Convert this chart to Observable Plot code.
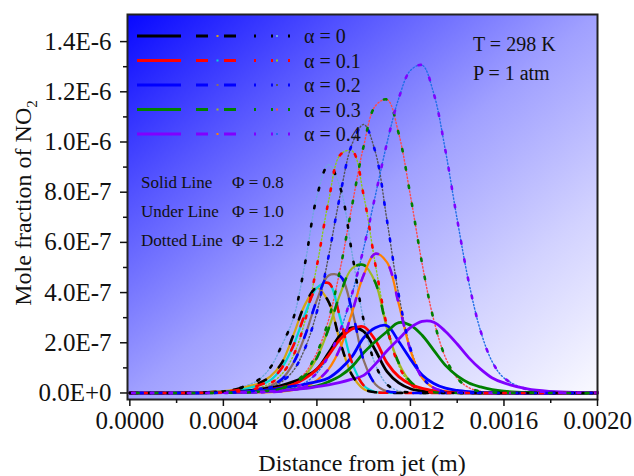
<!DOCTYPE html>
<html>
<head>
<meta charset="utf-8">
<script src="https://cdn.jsdelivr.net/npm/d3@7"></script>
<script src="https://cdn.jsdelivr.net/npm/@observablehq/plot@0.6"></script>
<style>
  html, body { margin: 0; padding: 0; background: #ffffff; }
  #chart svg { display: block; }
</style>
</head>
<body>
<div id="chart"></div>
<script>
// ---------- data (x in metres, y in units of 1e-6 mole fraction) ----------
const xs = [0, 0.0002, 0.0003, 0.0004, 0.00045, 0.0005, 0.00055, 0.0006, 0.00065, 0.0007,
  0.00075, 0.0008, 0.00085, 0.0009, 0.00095, 0.001, 0.00105, 0.0011, 0.00115, 0.0012,
  0.00125, 0.0013, 0.00135, 0.0014, 0.00145, 0.0015, 0.00155, 0.0016, 0.0017, 0.0018,
  0.0019, 0.002];
const yUnit = 1e-6;

const alphaLabels = ["α = 0", "α = 0.1", "α = 0.2", "α = 0.3", "α = 0.4"];
const alphaColors = ["#000000", "#ff0000", "#0000ff", "#008000", "#8000ff"];
const dashedBaseColors = ["#d4a514", "#00d6d6", "#8b6f64", "#a0b822", "#ff8000"];
const dottedBaseColors = ["#6fa8dc", "#8ccc1a", "#555555", "#ff4a4a", "#1e6fe8"];

// Phi = 0.8 (solid)
const phi08_a0 = [0,0,0.001,0.003,0.005,0.008,0.013,0.02,0.03,0.045,0.065,0.095,0.16,0.23,0.26,0.245,0.17,0.085,0.04,0.017,0.007,0.003,0.002,0.001,0,0,0,0,0,0,0,0];
const phi08_a1 = [0,0,0.001,0.002,0.003,0.005,0.008,0.013,0.022,0.035,0.058,0.095,0.15,0.215,0.255,0.264,0.21,0.12,0.065,0.035,0.018,0.009,0.004,0.002,0.001,0,0,0,0,0,0,0];
const phi08_a2 = [0,0,0.001,0.002,0.004,0.006,0.009,0.013,0.02,0.027,0.035,0.045,0.06,0.095,0.145,0.22,0.26,0.268,0.205,0.135,0.072,0.038,0.019,0.01,0.005,0.002,0.001,0,0,0,0,0];
const phi08_a3 = [0,0,0,0.001,0.002,0.003,0.005,0.007,0.01,0.014,0.02,0.028,0.045,0.068,0.105,0.16,0.205,0.245,0.28,0.27,0.23,0.17,0.11,0.068,0.04,0.024,0.013,0.007,0.002,0.001,0,0];
const phi08_a4 = [0,0,0,0.001,0.002,0.003,0.004,0.006,0.009,0.013,0.018,0.025,0.032,0.042,0.055,0.07,0.115,0.168,0.215,0.26,0.285,0.282,0.245,0.195,0.14,0.095,0.06,0.04,0.016,0.006,0.002,0.001];

// Phi = 1.0 (dashed, "Under Line")
const phi10_a0 = [0,0,0.002,0.007,0.014,0.025,0.038,0.065,0.12,0.232,0.354,0.419,0.363,0.202,0.072,0.016,0.003,0.001,0,0,0,0,0,0,0,0,0,0,0,0,0,0];
const phi10_a1 = [0,0,0.001,0.005,0.01,0.018,0.03,0.05,0.1,0.19,0.316,0.419,0.438,0.297,0.121,0.03,0.004,0.001,0,0,0,0,0,0,0,0,0,0,0,0,0,0];
const phi10_a2 = [0,0,0.001,0.002,0.004,0.008,0.015,0.028,0.055,0.12,0.23,0.37,0.468,0.465,0.33,0.13,0.035,0.007,0.002,0,0,0,0,0,0,0,0,0,0,0,0,0];
const phi10_a3 = [0,0,0,0.001,0.001,0.002,0.005,0.009,0.018,0.035,0.07,0.14,0.256,0.395,0.496,0.51,0.44,0.255,0.12,0.045,0.013,0.003,0.001,0,0,0,0,0,0,0,0,0];
const phi10_a4 = [0,0,0,0.001,0.001,0.002,0.002,0.003,0.006,0.012,0.025,0.05,0.095,0.18,0.32,0.47,0.555,0.52,0.355,0.17,0.06,0.02,0.007,0.002,0.001,0,0,0,0,0,0,0];

// Phi = 1.2 (dotted)
const phi12_a0 = [0,0,0.001,0.006,0.015,0.03,0.052,0.1,0.19,0.3,0.52,0.783,0.909,0.817,0.558,0.289,0.113,0.034,0.008,0.002,0,0,0,0,0,0,0,0,0,0,0,0];
const phi12_a1 = [0,0,0.001,0.002,0.005,0.01,0.02,0.038,0.075,0.15,0.29,0.507,0.765,0.949,0.965,0.787,0.512,0.265,0.109,0.036,0.009,0.002,0,0,0,0,0,0,0,0,0,0];
const phi12_a2 = [0,0,0,0.001,0.002,0.005,0.011,0.022,0.045,0.09,0.18,0.324,0.545,0.791,0.991,1.07,0.96,0.686,0.391,0.178,0.064,0.019,0.004,0.001,0,0,0,0,0,0,0,0];
const phi12_a3 = [0,0,0,0.001,0.001,0.002,0.005,0.01,0.02,0.04,0.08,0.16,0.291,0.496,0.745,0.984,1.144,1.169,1.033,0.786,0.515,0.29,0.141,0.059,0.021,0.0065,0.002,0.0005,0,0,0,0];
const phi12_a4 = [0,0,0,0,0.001,0.001,0.002,0.004,0.009,0.019,0.041,0.08,0.147,0.25,0.394,0.577,0.787,0.997,1.174,1.285,1.306,1.192,0.964,0.691,0.439,0.247,0.124,0.06,0.014,0.003,0.001,0];

// axes
const xTicks = [0, 0.0004, 0.0008, 0.0012, 0.0016, 0.002];
const xTickLabels = ["0.0000", "0.0004", "0.0008", "0.0012", "0.0016", "0.0020"];
const xMinorTicks = [0.0002, 0.0006, 0.001, 0.0014, 0.0018];
const yTicks = [0, 2e-7, 4e-7, 6e-7, 8e-7, 1e-6, 1.2e-6, 1.4e-6];
const yTickLabels = ["0.0E+0", "2.0E-7", "4.0E-7", "6.0E-7", "8.0E-7", "1.0E-6", "1.2E-6", "1.4E-6"];
const yMinorTicks = [1e-7, 3e-7, 5e-7, 7e-7, 9e-7, 1.1e-6, 1.3e-6];

const phiNotes = [["Solid Line", "Φ = 0.8"], ["Under Line", "Φ = 1.0"], ["Dotted Line", "Φ = 1.2"]];
const conditions = ["T = 298 K", "P = 1 atm"];

// ---------- build ----------
const serif = "'Liberation Serif', 'Times New Roman', serif";
const toRows = vals => xs.map((x, i) => ({x, y: vals[i] * yUnit}));
const solidSets = [phi08_a0, phi08_a1, phi08_a2, phi08_a3, phi08_a4].map(toRows);
const dashedSets = [phi10_a0, phi10_a1, phi10_a2, phi10_a3, phi10_a4].map(toRows);
const dottedSets = [phi12_a0, phi12_a1, phi12_a2, phi12_a3, phi12_a4].map(toRows);

const curve = "catmull-rom";
const marks = [Plot.frame({fill: "url(#bgGrad)"})];
dottedSets.forEach((d, i) => marks.push(Plot.line(d, {x: "x", y: "y", curve, stroke: dottedBaseColors[i], strokeWidth: 1.4, strokeDasharray: "1.3 2.2"})));
dashedSets.forEach((d, i) => marks.push(Plot.line(d, {x: "x", y: "y", curve, stroke: dashedBaseColors[i], strokeWidth: 2.2})));
solidSets.forEach((d, i) => marks.push(Plot.line(d, {x: "x", y: "y", curve, stroke: alphaColors[i], strokeWidth: 2.8})));
dashedSets.forEach((d, i) => marks.push(Plot.line(d, {x: "x", y: "y", curve, stroke: alphaColors[i], strokeWidth: 2.6, strokeDasharray: "8 18", strokeDashoffset: 3 * i})));
dottedSets.forEach((d, i) => marks.push(Plot.line(d, {x: "x", y: "y", curve, stroke: alphaColors[i], strokeWidth: 2.6, strokeDasharray: "2.5 16", strokeDashoffset: 4 * i})));
marks.push(Plot.frame({stroke: "#222", strokeWidth: 2}));
const axisText = {fontFamily: serif, fontSize: 25, fill: "#111"};
marks.push(Plot.axisX(xMinorTicks, {tickSize: 4, tickFormat: () => "", label: null, strokeWidth: 1.5}));
marks.push(Plot.axisX(xTicks, {...axisText, tickSize: 7, tickPadding: 5, label: null, strokeWidth: 1.5,
  tickFormat: d => xTickLabels[xTicks.findIndex(t => Math.abs(t - d) < 1e-9)]}));
marks.push(Plot.axisY(yMinorTicks, {tickSize: 4, tickFormat: () => "", label: null, strokeWidth: 1.5}));
marks.push(Plot.axisY(yTicks, {...axisText, tickSize: 7, tickPadding: 9, label: null, strokeWidth: 1.5,
  tickFormat: d => yTickLabels[yTicks.findIndex(t => Math.abs(t - d) < 1e-12)]}));

const chart = Plot.plot({
  width: 634,
  height: 476,
  marginLeft: 127,
  marginRight: 37,
  marginTop: 14,
  marginBottom: 77,
  x: {domain: [-0.00001, 0.002]},
  y: {domain: [-0.026e-6, 1.508e-6]},
  style: {fontFamily: serif, fontSize: "22px", color: "#111", background: "#ffffff", overflow: "visible"},
  marks
});
document.getElementById("chart").append(chart);

// ---------- gradient, titles, legend ----------
const svg = d3.select(chart);
const grad = svg.insert("defs", ":first-child").append("linearGradient")
  .attr("id", "bgGrad").attr("x1", 0).attr("y1", 0).attr("x2", 1).attr("y2", 1);
[[0, "#0808ff"], [0.25, "#5656ff"], [0.5, "#a0a0ff"], [0.75, "#d2d2ff"], [1, "#fbfbff"]]
  .forEach(([o, c]) => grad.append("stop").attr("offset", o).attr("stop-color", c));

const ann = svg.append("g").attr("font-family", serif).attr("fill", "#111").attr("text-anchor", "start");

// axis titles
ann.append("text").attr("x", 362).attr("y", 471).attr("text-anchor", "middle")
  .attr("font-size", 24).text("Distance from jet (m)");
const yt = ann.append("text").attr("transform", "translate(31,203) rotate(-90)")
  .attr("text-anchor", "middle").attr("font-size", 24);
yt.append("tspan").text("Mole fraction of NO");
yt.append("tspan").attr("font-size", 15).attr("dy", 6).text("2");

// legend
const rowY = [36, 60.5, 85, 109.5, 134];
const lg = svg.append("g");
alphaColors.forEach((c, i) => {
  const y = rowY[i];
  lg.append("line").attr("x1", 137).attr("x2", 181).attr("y1", y).attr("y2", y).attr("stroke", c).attr("stroke-width", 3);
  lg.append("line").attr("x1", 196).attr("x2", 208).attr("y1", y).attr("y2", y).attr("stroke", c).attr("stroke-width", 3);
  lg.append("line").attr("x1", 216.5).attr("x2", 218.5).attr("y1", y).attr("y2", y).attr("stroke", dashedBaseColors[i]).attr("stroke-width", 2);
  lg.append("line").attr("x1", 224).attr("x2", 236).attr("y1", y).attr("y2", y).attr("stroke", c).attr("stroke-width", 3);
  [254, 271, 288].forEach(x => lg.append("line").attr("x1", x).attr("x2", x + 2).attr("y1", y).attr("y2", y).attr("stroke", c).attr("stroke-width", 3));
  lg.append("line").attr("x1", 276).attr("x2", 278).attr("y1", y).attr("y2", y).attr("stroke", dottedBaseColors[i]).attr("stroke-width", 2);
  ann.append("text").attr("x", 304).attr("y", y + 7).attr("font-size", 20).text(alphaLabels[i]);
});

// phi notes
phiNotes.forEach(([a, b], i) => {
  const y = 188 + 29 * i;
  ann.append("text").attr("x", 141).attr("y", y).attr("font-size", 17).text(a);
  ann.append("text").attr("x", 232).attr("y", y).attr("font-size", 17).text(b);
});

// conditions
conditions.forEach((t, i) => {
  ann.append("text").attr("x", 473).attr("y", 51 + 29 * i).attr("font-size", 20).text(t);
});
</script>
</body>
</html>
